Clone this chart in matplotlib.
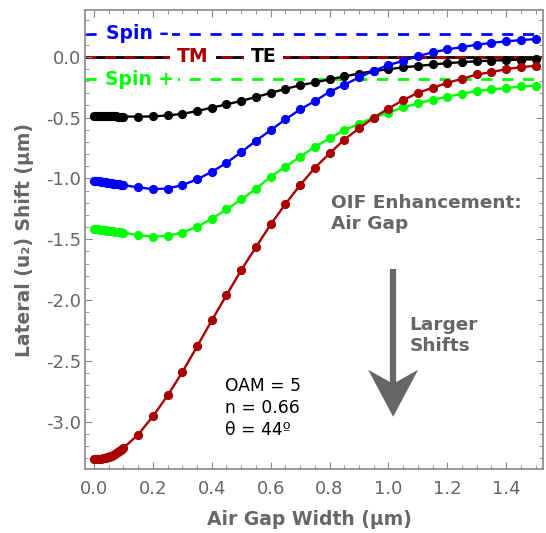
import numpy as np
import matplotlib
matplotlib.use('Agg')
import matplotlib.pyplot as plt
from matplotlib.patches import Polygon
from matplotlib.transforms import Affine2D, ScaledTranslation
from matplotlib.ticker import MultipleLocator, FormatStrFormatter

# air gap width (um): fine steps up to 0.1, then 0.05 steps
gap_fine = [0.000, 0.005, 0.010, 0.015, 0.020, 0.025, 0.030, 0.035, 0.040, 0.045, 0.050,
            0.055, 0.060, 0.065, 0.070, 0.075, 0.080, 0.085, 0.090, 0.095, 0.100]
gap_coarse = [0.15, 0.20, 0.25, 0.30, 0.35, 0.40, 0.45, 0.50, 0.55, 0.60, 0.65,
              0.70, 0.75, 0.80, 0.85, 0.90, 0.95, 1.00, 1.05, 1.10, 1.15, 1.20,
              1.25, 1.30, 1.35, 1.40, 1.45, 1.50]

shift_te = [-0.489, -0.489, -0.489, -0.489, -0.489, -0.489, -0.489, -0.489, -0.489, -0.489, -0.490,
            -0.490, -0.490, -0.490, -0.490, -0.490, -0.491, -0.491, -0.491, -0.491, -0.491,
            -0.492, -0.490, -0.482, -0.469, -0.446, -0.418, -0.392, -0.362, -0.331, -0.297, -0.264,
            -0.234, -0.210, -0.186, -0.161, -0.138, -0.117, -0.102, -0.087, -0.075, -0.063, -0.052,
            -0.044, -0.036, -0.031, -0.027, -0.023, -0.020]

shift_spin_minus = [-1.020, -1.021, -1.022, -1.023, -1.025, -1.026, -1.028, -1.030, -1.032, -1.034, -1.036,
                    -1.038, -1.040, -1.042, -1.044, -1.046, -1.048, -1.050, -1.052, -1.054, -1.055,
                    -1.074, -1.088, -1.083, -1.055, -1.008, -0.946, -0.872, -0.784, -0.691, -0.603, -0.515,
                    -0.433, -0.364, -0.288, -0.230, -0.170, -0.115, -0.068, -0.033, 0.006, 0.036, 0.061,
                    0.080, 0.099, 0.115, 0.127, 0.138, 0.146]

shift_spin_plus = [-1.417, -1.418, -1.419, -1.420, -1.422, -1.423, -1.425, -1.426, -1.428, -1.429, -1.431,
                   -1.432, -1.434, -1.435, -1.437, -1.438, -1.440, -1.442, -1.444, -1.446, -1.447,
                   -1.466, -1.480, -1.472, -1.445, -1.398, -1.332, -1.255, -1.173, -1.086, -0.986, -0.905,
                   -0.822, -0.740, -0.671, -0.603, -0.551, -0.501, -0.458, -0.416, -0.383, -0.353, -0.329,
                   -0.304, -0.282, -0.268, -0.257, -0.244, -0.236]

shift_tm = [-3.311, -3.311, -3.310, -3.309, -3.307, -3.305, -3.303, -3.300, -3.297, -3.293, -3.289,
            -3.284, -3.279, -3.273, -3.267, -3.260, -3.253, -3.245, -3.236, -3.227, -3.217,
            -3.106, -2.957, -2.785, -2.593, -2.382, -2.168, -1.960, -1.754, -1.565, -1.378, -1.211,
            -1.055, -0.913, -0.795, -0.680, -0.589, -0.501, -0.425, -0.356, -0.296, -0.255, -0.214,
            -0.181, -0.145, -0.126, -0.101, -0.085, -0.074]

gap = gap_fine + gap_coarse

# asymptotic reference levels
ref_spin_minus = 0.19
ref_spin_plus = -0.185
ref_te_tm = 0.0

gray = '#666666'
red = '#a80000'
green = '#00ff00'
blue = '#0000ff'

plt.rcParams['font.family'] = ['DejaVu Sans']

fig = plt.figure(figsize=(5.46, 5.33), dpi=100)
ax = fig.add_axes([0.156, 0.12, 0.8385, 0.861])

# reference lines
ax.axhline(ref_te_tm, color='black', lw=2, zorder=1)
ax.axhline(ref_te_tm, color=red, lw=2, dashes=(4, 3), zorder=1.1)
ax.axhline(ref_spin_minus, color=blue, lw=2, dashes=(4, 3.5), zorder=1)
ax.axhline(ref_spin_plus, color=green, lw=2, dashes=(4, 3.5), zorder=1)

box = dict(facecolor='white', edgecolor='none', pad=3)
ax.text(0.146, ref_spin_minus, 'Spin \u2013', color=blue, fontsize=13.5, fontweight='bold',
        ha='center', va='center', bbox=box, zorder=2)
ax.text(0.154, ref_spin_plus, 'Spin +', color=green, fontsize=13.5, fontweight='bold',
        ha='center', va='center', bbox=box, zorder=2)
ax.text(0.336, ref_te_tm, 'TM', color=red, fontsize=13.5, fontweight='bold',
        ha='center', va='center', bbox=dict(facecolor='white', edgecolor='none', pad=5), zorder=2)
ax.text(0.576, ref_te_tm, 'TE', color='black', fontsize=13.5, fontweight='bold',
        ha='center', va='center', bbox=dict(facecolor='white', edgecolor='none', pad=5), zorder=2)

# curves
for vals, col in [(shift_te, 'black'), (shift_spin_plus, green), (shift_tm, red), (shift_spin_minus, blue)]:
    ax.plot(gap, vals, color=col, lw=1.7, marker='o', ms=5.6, zorder=3)

# annotations
ax.text(0.804, -1.29, 'OIF Enhancement:\nAir Gap', color=gray, fontsize=13.3, fontweight='bold',
        ha='left', va='center', linespacing=1.25)
ax.text(1.071, -2.29, 'Larger\nShifts', color=gray, fontsize=13.3, fontweight='bold',
        ha='left', va='center', linespacing=1.25)
ax.text(0.444, -2.89, 'OAM = 5\nn = 0.66\n\u03b8 = 44\u00ba', color='black', fontsize=12.3,
        ha='left', va='center', linespacing=1.3)

# arrow shaft and swept-back head (head drawn in pixel offsets from the tip)
tip_x, tip_y = 1.016, -2.96
ax.plot([tip_x, tip_x], [-1.746, -2.75], color=gray, lw=4.5, solid_capstyle='butt', zorder=2)
head = Polygon([(0, 0), (-25, 47), (0, 33), (25, 47)], closed=True, facecolor=gray, edgecolor='none',
               transform=Affine2D() + ScaledTranslation(tip_x, tip_y, ax.transData), zorder=2)
ax.add_patch(head)

ax.set_xlim(-0.03, 1.525)
ax.set_ylim(-3.39, 0.384)

ax.xaxis.set_major_locator(MultipleLocator(0.2))
ax.xaxis.set_minor_locator(MultipleLocator(0.05))
ax.yaxis.set_major_locator(MultipleLocator(0.5))
ax.yaxis.set_minor_locator(MultipleLocator(0.1))
ax.xaxis.set_major_formatter(FormatStrFormatter('%.1f'))
ax.yaxis.set_major_formatter(FormatStrFormatter('%.1f'))

for s in ax.spines.values():
    s.set_color('#888888')
    s.set_linewidth(1.2)
ax.tick_params(which='both', direction='in', top=True, right=True, color='#888888', labelcolor=gray,
               labelsize=13)
ax.tick_params(which='major', length=5)
ax.tick_params(which='minor', length=3)
ax.tick_params(axis='x', pad=8)
ax.tick_params(axis='y', pad=3)

ax.set_xlabel('Air Gap Width (\u03bcm)', color=gray, fontsize=13.5, fontweight='bold')
ax.set_ylabel('Lateral (u\u2082) Shift (\u03bcm)', color=gray, fontsize=13.5, fontweight='bold')
ax.xaxis.set_label_coords(0.49, -0.111)
ax.yaxis.set_label_coords(-0.132, 0.5)
ax.xaxis.label.set_va('center')
ax.yaxis.label.set_va('center')

fig.savefig('out.png', dpi=100)
